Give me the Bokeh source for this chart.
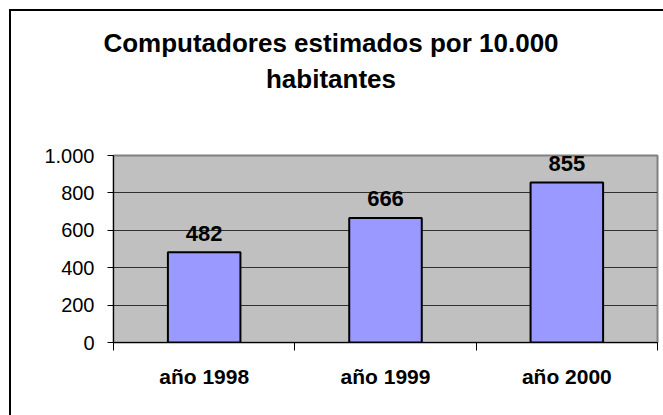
from bokeh.plotting import figure
from bokeh.layouts import column
from bokeh.models import (ColumnDataSource, Range1d, LinearAxis, FixedTicker,
                          Label, Div)
from bokeh.embed import file_html
from bokeh.resources import INLINE

title_lines = ["Computadores estimados por 10.000", "habitantes"]
categories = ["año 1998", "año 1999", "año 2000"]
values = [482, 666, 855]
y_ticks = [0, 200, 400, 600, 800, 1000]
y_tick_labels = ["0", "200", "400", "600", "800", "1.000"]

FONT = "Liberation Sans"
n = len(categories)

# title block (real HTML text) with the chart-area border's top/left edges
title_html = (
    '<div style="box-sizing:border-box; width:654px; height:111px; '
    'margin:9px 0 0 9px; border-left:2px solid black; border-top:2px solid black; '
    'padding:14px 12px 0 0; text-align:center; font-family:\'Liberation Sans\'; '
    'font-size:26px; font-weight:bold; line-height:36px; color:black; '
    'white-space:nowrap;">' + "<br>".join(title_lines) + '</div>'
)
head = Div(text=title_html, width=663, height=120, margin=0)

src = ColumnDataSource(dict(cat=categories, val=values))

p = figure(width=663, height=295, x_range=categories, y_range=Range1d(0, 1000),
           output_backend="svg", toolbar_location=None, x_axis_location=None,
           min_border_left=113, min_border_right=6, min_border_top=35,
           min_border_bottom=73, margin=0)
p.background_fill_color = "#C0C0C0"
p.border_fill_color = None
p.styles = {"background": "linear-gradient(to right, white 9px, black 9px, "
                          "black 11px, white 11px)"}
p.outline_line_color = "#808080"
p.outline_line_width = 2
p.xgrid.visible = False
p.ygrid.ticker = FixedTicker(ticks=y_ticks[1:-1])
p.ygrid.grid_line_color = "#303030"
p.ygrid.grid_line_width = 1

p.vbar(x="cat", top="val", width=0.4, source=src, fill_color="#9999FF",
       line_color="black", line_width=2)

# y axis
yax = p.yaxis[0]
yax.ticker = FixedTicker(ticks=y_ticks)
yax.major_label_overrides = {float(t): l for t, l in zip(y_ticks, y_tick_labels)}
yax.major_tick_out = 6
yax.major_tick_in = 0
yax.minor_tick_line_color = None
yax.axis_line_color = "black"
yax.major_tick_line_color = "black"
yax.major_label_text_font = FONT
yax.major_label_text_font_size = "20px"
yax.major_label_text_color = "black"
yax.major_label_standoff = 13

# x axis on the factor range's synthetic coordinates:
# labels at category centres, ticks at category boundaries
xax = LinearAxis(ticker=FixedTicker(ticks=[i + 0.5 for i in range(n)],
                                    minor_ticks=list(range(n + 1))))
xax.major_label_overrides = {i + 0.5: c for i, c in enumerate(categories)}
xax.major_tick_line_color = None
xax.major_tick_out = 0
xax.major_tick_in = 0
xax.minor_tick_out = 8
xax.minor_tick_in = 0
xax.minor_tick_line_color = "black"
xax.axis_line_color = "black"
xax.major_label_text_font = FONT
xax.major_label_text_font_size = "21px"
xax.major_label_text_font_style = "bold"
xax.major_label_text_color = "black"
xax.major_label_standoff = 14
p.add_layout(xax, "below")

# value labels above the bars (factor centres in synthetic coordinates)
for i, v in enumerate(values):
    p.add_layout(Label(x=i + 0.5, y=v, text=str(v), text_align="center",
                       text_baseline="alphabetic", y_offset=19, text_font=FONT,
                       text_font_size="22px", text_font_style="bold",
                       text_color="black"))

layout = column(head, p, spacing=0)

open("out.html", "w").write(file_html(layout, INLINE))
